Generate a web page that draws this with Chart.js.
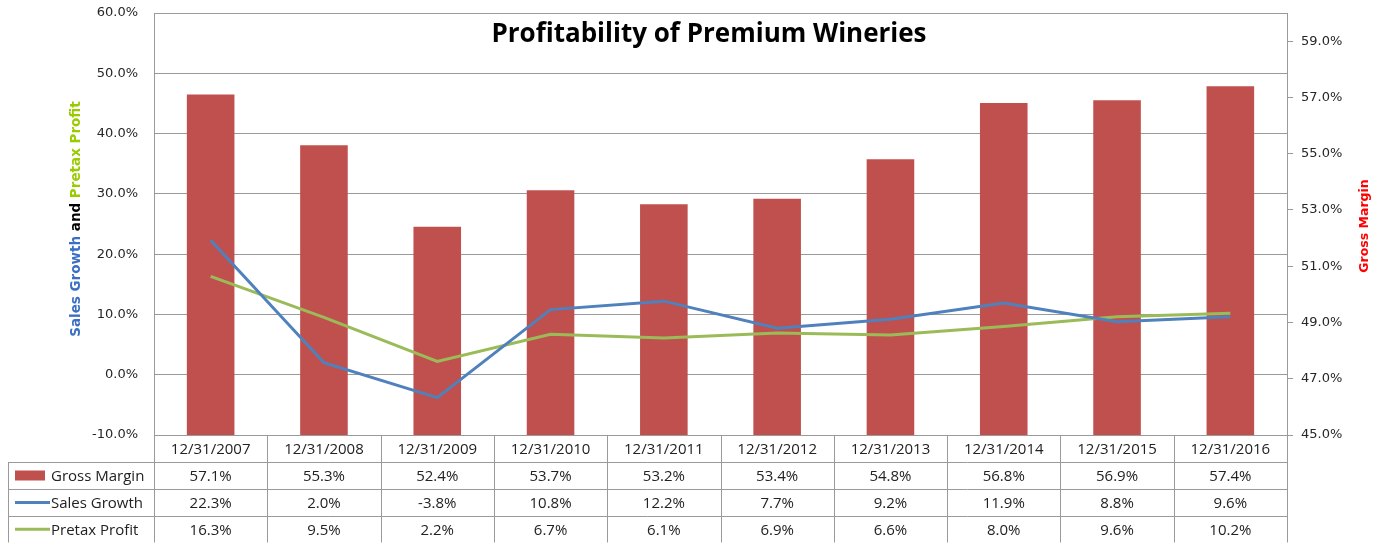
<!DOCTYPE html>
<html lang="en">
<head>
<meta charset="UTF-8">
<title>Profitability of Premium Wineries</title>
<script src="https://cdn.jsdelivr.net/npm/chart.js"></script>
<style>
  body { margin: 0; background: #fff; }
  #wrap { width: 1380px; height: 543px; }
</style>
</head>
<body>
<div id="wrap"><canvas id="myChart" width="1380" height="543"></canvas></div>
<script>
// chart data
const categories = ["12/31/2007", "12/31/2008", "12/31/2009", "12/31/2010", "12/31/2011",
                    "12/31/2012", "12/31/2013", "12/31/2014", "12/31/2015", "12/31/2016"];
const grossMargin = [57.1, 55.3, 52.4, 53.7, 53.2, 53.4, 54.8, 56.8, 56.9, 57.4];
const salesGrowth = [22.3, 2.0, -3.8, 10.8, 12.2, 7.7, 9.2, 11.9, 8.8, 9.6];
const pretaxProfit = [16.3, 9.5, 2.2, 6.7, 6.1, 6.9, 6.6, 8.0, 9.6, 10.2];
const seriesNames = ["Gross Margin", "Sales Growth", "Pretax Profit"];
const leftTicks = [-10, 0, 10, 20, 30, 40, 50, 60];
const rightTicks = [45, 47, 49, 51, 53, 55, 57, 59];

const RED = "#c0504d";
const BLUE = "#4f81bd";
const GREEN = "#9bbb59";
const GRID = "#9a9a9a";
const TABLE_FONT = "15px 'Open Sans'";

const pct = v => v.toFixed(1) + "%";

// draws title, axis titles and the data table under the plot
const extrasPlugin = {
  id: "extras",
  afterDraw(chart) {
    const ctx = chart.ctx;
    const area = chart.chartArea;
    const x = chart.scales.x;
    ctx.save();

    // chart title
    ctx.fillStyle = "#000";
    ctx.font = "bold 26px 'Open Sans'";
    ctx.textAlign = "center";
    ctx.textBaseline = "middle";
    ctx.fillText("Profitability of Premium Wineries", 709, 35);

    // left axis title, three colours
    const parts = [["Sales Growth ", "#3a6fc4"], ["and ", "#000"], ["Pretax Profit", "#99cc00"]];
    ctx.font = "bold 13.5px 'DejaVu Sans'";
    const total = parts.reduce((s, p) => s + ctx.measureText(p[0]).width, 0);
    ctx.translate(76, 219);
    ctx.rotate(-Math.PI / 2);
    ctx.textAlign = "left";
    let pos = -total / 2;
    parts.forEach(p => {
      ctx.fillStyle = p[1];
      ctx.fillText(p[0], pos, 0);
      pos += ctx.measureText(p[0]).width;
    });
    ctx.setTransform(1, 0, 0, 1, 0, 0);

    // right axis title
    ctx.font = "bold 12.5px 'DejaVu Sans'";
    ctx.translate(1365, 226);
    ctx.rotate(-Math.PI / 2);
    ctx.textAlign = "center";
    ctx.fillStyle = "#ff0000";
    ctx.fillText("Gross Margin", 0, 0);
    ctx.setTransform(1, 0, 0, 1, 0, 0);

    // data table
    const rowTops = [area.bottom, 462, 489, 516, 542.5];
    const cellW = (area.right - area.left) / categories.length;
    const legendLeft = 8.5;
    ctx.strokeStyle = GRID;
    ctx.lineWidth = 1;
    ctx.beginPath();
    ctx.moveTo(area.left, rowTops[0] + 0.5);
    ctx.lineTo(area.right, rowTops[0] + 0.5);
    for (let r = 1; r < rowTops.length; r++) {
      const yy = Math.round(rowTops[r]) + 0.5;
      ctx.moveTo(legendLeft, yy);
      ctx.lineTo(area.right, yy);
    }
    for (let c = 0; c <= categories.length; c++) {
      const xx = Math.round(area.left + c * cellW) + 0.5;
      ctx.moveTo(xx, rowTops[0]);
      ctx.lineTo(xx, rowTops[4]);
    }
    ctx.moveTo(legendLeft, rowTops[1]);
    ctx.lineTo(legendLeft, rowTops[4]);
    ctx.stroke();

    ctx.font = TABLE_FONT;
    ctx.fillStyle = "#222";
    ctx.textAlign = "center";
    ctx.textBaseline = "middle";
    const rows = [grossMargin, salesGrowth, pretaxProfit];
    categories.forEach((cat, i) => {
      const cx = x.getPixelForValue(i);
      ctx.fillText(cat, cx, (rowTops[0] + rowTops[1]) / 2 + 1);
      rows.forEach((vals, r) => {
        ctx.fillText(pct(vals[i]), cx, (rowTops[r + 1] + rowTops[r + 2]) / 2 + 1);
      });
    });

    // legend keys
    ctx.textAlign = "left";
    seriesNames.forEach((name, r) => {
      const cy = (rowTops[r + 1] + rowTops[r + 2]) / 2;
      if (r === 0) {
        ctx.fillStyle = RED;
        ctx.fillRect(15, cy - 5, 30, 10);
      } else {
        ctx.strokeStyle = r === 1 ? BLUE : GREEN;
        ctx.lineWidth = 3;
        ctx.beginPath();
        ctx.moveTo(15, cy);
        ctx.lineTo(50, cy);
        ctx.stroke();
      }
      ctx.fillStyle = "#222";
      ctx.fillText(name, 51, cy + 1);
    });

    ctx.restore();
  }
};

// fixed axis widths, no extra label padding above/below the plot
const fitAxis = w => s => {
  s.width = w;
  s.paddingTop = 0;
  s.paddingBottom = 0;
};

const chart = new Chart(document.getElementById("myChart"), {
  type: "bar",
  data: {
    labels: categories,
    datasets: [
      {
        type: "line",
        label: seriesNames[1],
        data: salesGrowth,
        yAxisID: "y",
        borderColor: BLUE,
        borderWidth: 3,
        pointRadius: 0,
        tension: 0,
        order: 0
      },
      {
        type: "line",
        label: seriesNames[2],
        data: pretaxProfit,
        yAxisID: "y",
        borderColor: GREEN,
        borderWidth: 3,
        pointRadius: 0,
        tension: 0,
        order: 0
      },
      {
        type: "bar",
        label: seriesNames[0],
        data: grossMargin,
        yAxisID: "y1",
        backgroundColor: RED,
        categoryPercentage: 1,
        barPercentage: 0.42,
        order: 1
      }
    ]
  },
  options: {
    responsive: false,
    animation: false,
    layout: { padding: { top: 13, bottom: 108, left: 0, right: 0 } },
    plugins: {
      legend: { display: false },
      tooltip: { enabled: false },
      title: { display: false }
    },
    scales: {
      x: { display: false },
      y: {
        position: "left",
        min: -10,
        max: 60,
        afterBuildTicks: s => { s.ticks = leftTicks.map(v => ({ value: v })); },
        afterFit: fitAxis(154),
        grid: { color: GRID, drawTicks: false },
        border: { display: true, color: GRID },
        ticks: {
          padding: 16,
          color: "#262626",
          font: { family: "DejaVu Sans", size: 13 },
          callback: v => pct(v)
        }
      },
      y1: {
        position: "right",
        min: 45,
        max: 60,
        afterBuildTicks: s => { s.ticks = rightTicks.map(v => ({ value: v })); },
        afterFit: fitAxis(93),
        grid: { drawOnChartArea: false, color: GRID, tickLength: 6 },
        border: { display: true, color: GRID },
        ticks: {
          padding: 8,
          color: "#262626",
          font: { family: "DejaVu Sans", size: 13 },
          callback: v => pct(v)
        }
      }
    }
  },
  plugins: [extrasPlugin]
});
</script>
</body>
</html>
